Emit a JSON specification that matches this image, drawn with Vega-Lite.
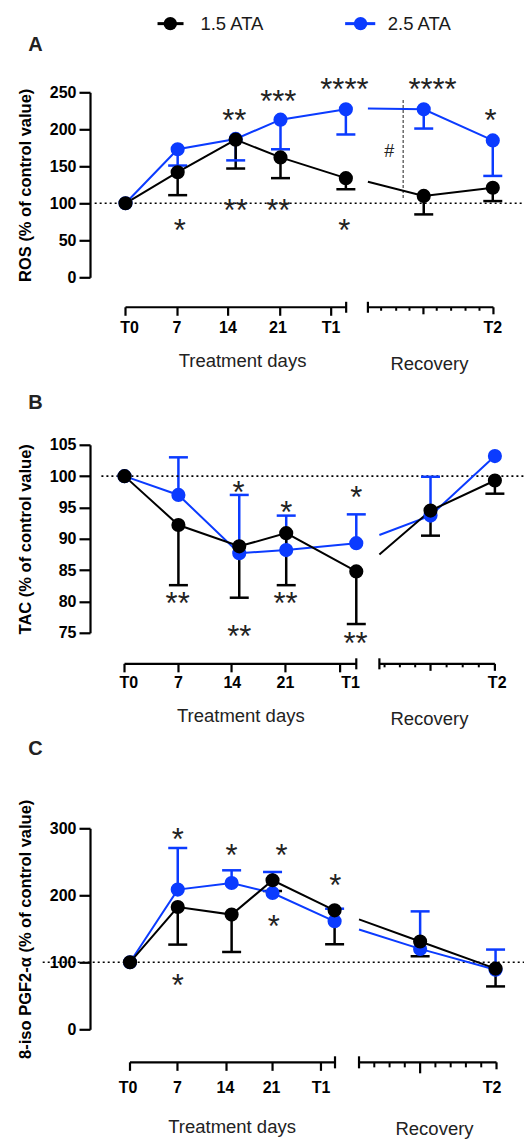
{
 "$schema": "https://vega.github.io/schema/vega-lite/v6.json",
 "padding": {"left": 17, "top": 14.3, "right": 0, "bottom": 0},
 "autosize": {"type": "pad"},
 "background": "white",
 "config": {
  "font": "Liberation Sans",
  "view": {"stroke": null},
  "axis": {"grid": false, "domainColor": "black", "domainWidth": 2.2, "tickColor": "black", "tickWidth": 2.2, "tickSize": 11, "labelFontSize": 16, "labelFontWeight": "bold", "labelColor": "black", "labelPadding": 3, "labelFlush": false, "labelOverlap": false, "titleFontSize": 16.5, "titleFontWeight": "bold", "titleColor": "black", "titlePadding": 16}
 },
 "datasets": {
  "A": [
   {"g":"2.5 ATA","seg":"t","t":0,"m":100},
   {"g":"2.5 ATA","seg":"t","t":7.1,"m":173,"e":151},
   {"g":"2.5 ATA","seg":"t","t":15,"m":187,"e":158},
   {"g":"2.5 ATA","seg":"t","t":21.1,"m":213,"e":173},
   {"g":"2.5 ATA","seg":"t","t":30,"m":227,"e":193},
   {"g":"2.5 ATA","seg":"r","t":33,"m":228,"kind":"break"},
   {"g":"2.5 ATA","seg":"r","t":40.6,"m":227,"e":201},
   {"g":"2.5 ATA","seg":"r","t":50,"m":185,"e":137},
   {"g":"1.5 ATA","seg":"t","t":0,"m":100},
   {"g":"1.5 ATA","seg":"t","t":7.1,"m":142,"e":111},
   {"g":"1.5 ATA","seg":"t","t":15,"m":186,"e":147},
   {"g":"1.5 ATA","seg":"t","t":21.1,"m":162,"e":134},
   {"g":"1.5 ATA","seg":"t","t":30,"m":134,"e":119},
   {"g":"1.5 ATA","seg":"r","t":33,"m":129,"kind":"break"},
   {"g":"1.5 ATA","seg":"r","t":40.6,"m":110,"e":85},
   {"g":"1.5 ATA","seg":"r","t":50,"m":121,"e":103}
  ],
  "A_st": [
   {"t":14.8,"y":221,"s":"**"},{"t":20.8,"y":247,"s":"***"},{"t":29.8,"y":264,"s":"****"},{"t":41.8,"y":264,"s":"****"},{"t":49.7,"y":222,"s":"*"},
   {"t":7.4,"y":73,"s":"*"},{"t":15,"y":100,"s":"**"},{"t":20.8,"y":100,"s":"**"},{"t":29.8,"y":73,"s":"*"}
  ],
  "A_tk": [
   {"t":0,"k":"major"},{"t":7.08,"k":"major"},{"t":13.97,"k":"major"},{"t":21.06,"k":"major"},{"t":28,"k":"major"},{"t":30.04,"k":"cap"},
   {"t":33.0,"k":"cap"},{"t":34.8,"k":"minor"},{"t":36.85,"k":"minor"},{"t":38.66,"k":"minor"},{"t":40.56,"k":"mid"},{"t":42.37,"k":"minor"},{"t":44.33,"k":"minor"},{"t":46.29,"k":"minor"},{"t":48.19,"k":"minor"},{"t":50.09,"k":"mid"}
  ],
  "A_ax": [{"t0":0,"t1":30.04},{"t0":33.0,"t1":50.09}],
  "A_lb": [{"t":0.54,"lab":"T0"},{"t":7.0,"lab":"7"},{"t":13.95,"lab":"14"},{"t":20.76,"lab":"21"},{"t":28.0,"lab":"T1"},{"t":50.0,"lab":"T2"}],
  "B": [
   {"g":"2.5 ATA","seg":"t","t":0,"m":100},
   {"g":"2.5 ATA","seg":"t","t":7.0,"m":97.0,"e":103.0},
   {"g":"2.5 ATA","seg":"t","t":14.9,"m":87.7,"e":97.0},
   {"g":"2.5 ATA","seg":"t","t":21.0,"m":88.2,"e":93.7},
   {"g":"2.5 ATA","seg":"t","t":30.1,"m":89.3,"e":93.9},
   {"g":"2.5 ATA","seg":"r","t":33.1,"m":90.6,"kind":"break"},
   {"g":"2.5 ATA","seg":"r","t":39.74,"m":93.7,"e":99.9},
   {"g":"2.5 ATA","seg":"r","t":48.1,"m":103.2},
   {"g":"1.5 ATA","seg":"t","t":0,"m":100},
   {"g":"1.5 ATA","seg":"t","t":7.0,"m":92.2,"e":82.6},
   {"g":"1.5 ATA","seg":"t","t":14.9,"m":88.8,"e":80.6},
   {"g":"1.5 ATA","seg":"t","t":21.0,"m":90.9,"e":82.6},
   {"g":"1.5 ATA","seg":"t","t":30.1,"m":84.8,"e":76.4},
   {"g":"1.5 ATA","seg":"r","t":33.1,"m":87.5,"kind":"break"},
   {"g":"1.5 ATA","seg":"r","t":39.74,"m":94.5,"e":90.5},
   {"g":"1.5 ATA","seg":"r","t":48.1,"m":99.3,"e":97.2}
  ],
  "B_st": [
   {"t":14.8,"y":98.5,"s":"*"},{"t":21.0,"y":95.3,"s":"*"},{"t":30.1,"y":97.7,"s":"*"},
   {"t":6.9,"y":80.9,"s":"**"},{"t":14.9,"y":75.6,"s":"**"},{"t":20.9,"y":80.9,"s":"**"},{"t":30.0,"y":74.4,"s":"**"}
  ],
  "B_tk": [
   {"t":0,"k":"major"},{"t":7.01,"k":"major"},{"t":13.9,"k":"major"},{"t":20.9,"k":"major"},{"t":28,"k":"major"},{"t":30.1,"k":"cap"},
   {"t":33.1,"k":"cap"},{"t":33.77,"k":"minor"},{"t":35.76,"k":"minor"},{"t":37.75,"k":"minor"},{"t":39.74,"k":"mid"},{"t":41.83,"k":"minor"},{"t":43.92,"k":"minor"},{"t":46.01,"k":"minor"},{"t":48.1,"k":"mid"}
  ],
  "B_ax": [{"t0":0,"t1":30.1},{"t0":33.1,"t1":48.1}],
  "B_lb": [{"t":0.55,"lab":"T0"},{"t":7.0,"lab":"7"},{"t":14.0,"lab":"14"},{"t":20.9,"lab":"21"},{"t":29.35,"lab":"T1"},{"t":48.4,"lab":"T2"}],
  "C": [
   {"g":"2.5 ATA","seg":"t","t":0,"m":100},
   {"g":"2.5 ATA","seg":"t","t":7.0,"m":208.5,"e":270.6},
   {"g":"2.5 ATA","seg":"t","t":14.9,"m":218.4,"e":237.3},
   {"g":"2.5 ATA","seg":"t","t":20.9,"m":203.4,"e":234.8},
   {"g":"2.5 ATA","seg":"t","t":30.0,"m":161.2,"e":180},
   {"g":"2.5 ATA","seg":"r","t":33.58,"m":149,"kind":"break"},
   {"g":"2.5 ATA","seg":"r","t":42.54,"m":120,"e":176},
   {"g":"2.5 ATA","seg":"r","t":53.6,"m":89,"e":119},
   {"g":"1.5 ATA","seg":"t","t":0,"m":100},
   {"g":"1.5 ATA","seg":"t","t":7.0,"m":182.5,"e":126.4},
   {"g":"1.5 ATA","seg":"t","t":14.9,"m":171.2,"e":115.4},
   {"g":"1.5 ATA","seg":"t","t":20.9,"m":222.4,"e":206.4},
   {"g":"1.5 ATA","seg":"t","t":30.0,"m":177.6,"e":126.9},
   {"g":"1.5 ATA","seg":"r","t":33.58,"m":164,"kind":"break"},
   {"g":"1.5 ATA","seg":"r","t":42.54,"m":131,"e":109},
   {"g":"1.5 ATA","seg":"r","t":53.6,"m":90.6,"e":64}
  ],
  "C_st": [
   {"t":7.0,"y":294,"s":"*"},{"t":14.9,"y":270,"s":"*"},{"t":22.2,"y":270,"s":"*"},{"t":30.1,"y":225,"s":"*"},
   {"t":21.1,"y":164,"s":"*"},{"t":7.0,"y":75.7,"s":"*"}
  ],
  "C_tk": [
   {"t":0,"k":"major"},{"t":6.96,"k":"major"},{"t":14.15,"k":"major"},{"t":20.9,"k":"major"},{"t":28,"k":"major"},{"t":30.06,"k":"cap"},
   {"t":33.58,"k":"cap"},{"t":35.82,"k":"minor"},{"t":38.06,"k":"minor"},{"t":40.29,"k":"minor"},{"t":42.54,"k":"long"},{"t":44.78,"k":"minor"},{"t":47.02,"k":"minor"},{"t":49.25,"k":"minor"},{"t":51.5,"k":"minor"},{"t":53.74,"k":"mid"}
  ],
  "C_ax": [{"t0":0,"t1":30.06},{"t0":33.58,"t1":53.74}],
  "C_lb": [{"t":-0.3,"lab":"T0"},{"t":6.96,"lab":"7"},{"t":14.0,"lab":"14"},{"t":20.75,"lab":"21"},{"t":28.0,"lab":"T1"},{"t":53.1,"lab":"T2"}]
 },
 "spacing": 18.5,
 "vconcat": [
  {
   "width": 434, "height": 185,
   "resolve": {"axis": {"x": "independent", "y": "independent"}},
   "layer": [
    {"data":{"name":"A"},"transform":[{"filter":"isValid(datum.e)"}],"mark":{"type":"rule","strokeWidth":2.5},
     "encoding":{"x":{"field":"t","type":"quantitative","scale":{"domain":[-4.833,54.25],"nice":false,"zero":false},"axis":null},
      "y":{"field":"m","type":"quantitative","scale":{"domain":[0,250],"nice":false,"zero":false},"axis":{"orient":"left","values":[0,50,100,150,200,250],"title":"ROS (% of control value)"}},
      "y2":{"field":"e"},
      "color":{"field":"g","type":"nominal","scale":{"domain":["1.5 ATA","2.5 ATA"],"range":["#000000","#0B3BFF"]},"legend":null}}},
    {"data":{"values":[{}]},"mark":{"type":"rule","strokeDash":[2,3],"strokeWidth":1.6,"color":"black"},"encoding":{"x":{"datum":-4.2,"axis":null},"x2":{"datum":54.25},"y":{"datum":100,"axis":null}}},
    {"data":{"values":[{}]},"mark":{"type":"rule","strokeDash":[3,2],"strokeWidth":1.2,"color":"#444444"},"encoding":{"x":{"datum":37.8,"axis":null},"y":{"datum":107,"axis":null},"y2":{"datum":240}}},
    {"data":{"values":[{}]},"mark":{"type":"text","fontSize":18,"color":"#222222","baseline":"middle"},"encoding":{"x":{"datum":35.9,"axis":null},"y":{"datum":169,"axis":null},"text":{"value":"#"}}},
    {"data":{"name":"A"},"transform":[{"filter":"isValid(datum.e)"}],"mark":{"type":"tick","orient":"horizontal","size":19,"thickness":2.5,"opacity":1},
     "encoding":{"x":{"field":"t","type":"quantitative","axis":null},"y":{"field":"e","type":"quantitative","axis":null},"color":{"field":"g","type":"nominal","legend":null}}},
    {"data":{"name":"A"},"mark":{"type":"line","strokeWidth":2},
     "encoding":{"x":{"field":"t","type":"quantitative","axis":null},"y":{"field":"m","type":"quantitative","axis":null},"detail":{"field":"seg","type":"nominal"},"color":{"field":"g","type":"nominal","legend":null}}},
    {"data":{"name":"A"},"transform":[{"filter":"datum.kind !== 'break'"}],"mark":{"type":"point","filled":true,"size":200,"opacity":1},
     "encoding":{"x":{"field":"t","type":"quantitative","axis":null},"y":{"field":"m","type":"quantitative","axis":null},"color":{"field":"g","type":"nominal","legend":null}}},
    {"data":{"name":"A_st"},"mark":{"type":"text","fontSize":31,"baseline":"middle","dy":8.7,"color":"#222222"},
     "encoding":{"x":{"field":"t","type":"quantitative","axis":null},"y":{"field":"y","type":"quantitative","axis":null},"text":{"field":"s","type":"nominal"}}},
    {"data":{"name":"A_ax"},"mark":{"type":"rule","strokeWidth":2.2,"color":"black"},"encoding":{"x":{"field":"t0","type":"quantitative","axis":null},"x2":{"field":"t1"},"y":{"datum":-40.5,"axis":null}}},
    {"data":{"name":"A_tk"},"transform":[{"filter":"datum.k === 'major'"}],"mark":{"type":"rule","strokeWidth":2.2,"color":"black"},"encoding":{"x":{"field":"t","type":"quantitative","axis":null},"y":{"datum":-40.5,"axis":null},"y2":{"datum":-52}}},
    {"data":{"name":"A_tk"},"transform":[{"filter":"datum.k === 'mid'"}],"mark":{"type":"rule","strokeWidth":2.2,"color":"black"},"encoding":{"x":{"field":"t","type":"quantitative","axis":null},"y":{"datum":-40.5,"axis":null},"y2":{"datum":-50}}},
    {"data":{"name":"A_tk"},"transform":[{"filter":"datum.k === 'minor'"}],"mark":{"type":"rule","strokeWidth":2,"color":"black"},"encoding":{"x":{"field":"t","type":"quantitative","axis":null},"y":{"datum":-40.5,"axis":null},"y2":{"datum":-45.2}}},
    {"data":{"name":"A_tk"},"transform":[{"filter":"datum.k === 'cap'"}],"mark":{"type":"rule","strokeWidth":2.2,"color":"black"},"encoding":{"x":{"field":"t","type":"quantitative","axis":null},"y":{"datum":-33.1,"axis":null},"y2":{"datum":-47.9}}},
    {"data":{"name":"A_lb"},"mark":{"type":"text","fontWeight":"bold","fontSize":16,"baseline":"middle","align":"center","color":"black"},"encoding":{"x":{"field":"t","type":"quantitative","axis":null},"y":{"datum":-68.2,"axis":null},"text":{"field":"lab","type":"nominal"}}},
    {"data":{"values":[{}]},"mark":{"type":"text","fontSize":18.5,"baseline":"middle","color":"#222222"},"encoding":{"x":{"datum":15.93,"axis":null},"y":{"datum":-113.5,"axis":null},"text":{"value":"Treatment days"}}},
    {"data":{"values":[{}]},"mark":{"type":"text","fontSize":18.5,"baseline":"middle","color":"#222222"},"encoding":{"x":{"datum":41.38,"axis":null},"y":{"datum":-117.6,"axis":null},"text":{"value":"Recovery"}}},
    {"data":{"values":[{}]},"mark":{"type":"text","fontSize":20,"fontWeight":"bold","baseline":"middle","color":"#222222"},"encoding":{"x":{"datum":-12.25,"axis":null},"y":{"datum":314.2,"axis":null},"text":{"value":"A"}}},
    {"data":{"values":[{}]},"mark":{"type":"rule","strokeWidth":3,"color":"black"},"encoding":{"x":{"datum":4.36,"axis":null},"x2":{"datum":7.9},"y":{"datum":342.8,"axis":null}}},
    {"data":{"values":[{}]},"mark":{"type":"point","filled":true,"size":180,"opacity":1,"color":"black"},"encoding":{"x":{"datum":6.1,"axis":null},"y":{"datum":342.8,"axis":null}}},
    {"data":{"values":[{}]},"mark":{"type":"text","fontSize":18.5,"baseline":"middle","align":"left","color":"#1a1a1a"},"encoding":{"x":{"datum":10.2,"axis":null},"y":{"datum":342.8,"axis":null},"text":{"value":"1.5 ATA"}}},
    {"data":{"values":[{}]},"mark":{"type":"rule","strokeWidth":3,"color":"#0B3BFF"},"encoding":{"x":{"datum":29.9,"axis":null},"x2":{"datum":34.0},"y":{"datum":342.8,"axis":null}}},
    {"data":{"values":[{}]},"mark":{"type":"point","filled":true,"size":180,"opacity":1,"color":"#0B3BFF"},"encoding":{"x":{"datum":32.0,"axis":null},"y":{"datum":342.8,"axis":null}}},
    {"data":{"values":[{}]},"mark":{"type":"text","fontSize":18.5,"baseline":"middle","align":"left","color":"#1a1a1a"},"encoding":{"x":{"datum":35.7,"axis":null},"y":{"datum":342.8,"axis":null},"text":{"value":"2.5 ATA"}}}
   ]
  },
  {
   "spacing": 10.5,
   "vconcat": [
    {
     "width": 434, "height": 188,
     "resolve": {"axis": {"x": "independent", "y": "independent"}},
     "layer": [
      {"data":{"name":"B"},"transform":[{"filter":"isValid(datum.e)"}],"mark":{"type":"rule","strokeWidth":2.5},
       "encoding":{"x":{"field":"t","type":"quantitative","scale":{"domain":[-4.481,51.88],"nice":false,"zero":false},"axis":null},
        "y":{"field":"m","type":"quantitative","scale":{"domain":[75,105],"nice":false,"zero":false},"axis":{"orient":"left","values":[75,80,85,90,95,100,105],"title":"TAC (% of control value)"}},
        "y2":{"field":"e"},
        "color":{"field":"g","type":"nominal","legend":null}}},
      {"data":{"values":[{}]},"mark":{"type":"rule","strokeDash":[2,3],"strokeWidth":1.6,"color":"black"},"encoding":{"x":{"datum":-3.0,"axis":null},"x2":{"datum":51.88},"y":{"datum":100,"axis":null}}},
      {"data":{"name":"B"},"transform":[{"filter":"isValid(datum.e)"}],"mark":{"type":"tick","orient":"horizontal","size":19,"thickness":2.5,"opacity":1},
       "encoding":{"x":{"field":"t","type":"quantitative","axis":null},"y":{"field":"e","type":"quantitative","axis":null},"color":{"field":"g","type":"nominal","legend":null}}},
      {"data":{"name":"B"},"mark":{"type":"line","strokeWidth":2},
       "encoding":{"x":{"field":"t","type":"quantitative","axis":null},"y":{"field":"m","type":"quantitative","axis":null},"detail":{"field":"seg","type":"nominal"},"color":{"field":"g","type":"nominal","legend":null}}},
      {"data":{"name":"B"},"transform":[{"filter":"datum.kind !== 'break'"}],"mark":{"type":"point","filled":true,"size":200,"opacity":1},
       "encoding":{"x":{"field":"t","type":"quantitative","axis":null},"y":{"field":"m","type":"quantitative","axis":null},"color":{"field":"g","type":"nominal","legend":null}}},
      {"data":{"name":"B_st"},"mark":{"type":"text","fontSize":31,"baseline":"middle","dy":8.7,"color":"#222222"},
       "encoding":{"x":{"field":"t","type":"quantitative","axis":null},"y":{"field":"y","type":"quantitative","axis":null},"text":{"field":"s","type":"nominal"}}},
      {"data":{"name":"B_ax"},"mark":{"type":"rule","strokeWidth":2.2,"color":"black"},"encoding":{"x":{"field":"t0","type":"quantitative","axis":null},"x2":{"field":"t1"},"y":{"datum":70.05,"axis":null}}},
      {"data":{"name":"B_tk"},"transform":[{"filter":"datum.k === 'major'"}],"mark":{"type":"rule","strokeWidth":2.2,"color":"black"},"encoding":{"x":{"field":"t","type":"quantitative","axis":null},"y":{"datum":70.05,"axis":null},"y2":{"datum":68.69}}},
      {"data":{"name":"B_tk"},"transform":[{"filter":"datum.k === 'mid'"}],"mark":{"type":"rule","strokeWidth":2.2,"color":"black"},"encoding":{"x":{"field":"t","type":"quantitative","axis":null},"y":{"datum":70.05,"axis":null},"y2":{"datum":68.93}}},
      {"data":{"name":"B_tk"},"transform":[{"filter":"datum.k === 'minor'"}],"mark":{"type":"rule","strokeWidth":2,"color":"black"},"encoding":{"x":{"field":"t","type":"quantitative","axis":null},"y":{"datum":70.05,"axis":null},"y2":{"datum":69.49}}},
      {"data":{"name":"B_tk"},"transform":[{"filter":"datum.k === 'cap'"}],"mark":{"type":"rule","strokeWidth":2.2,"color":"black"},"encoding":{"x":{"field":"t","type":"quantitative","axis":null},"y":{"datum":70.93,"axis":null},"y2":{"datum":69.17}}},
      {"data":{"name":"B_lb"},"mark":{"type":"text","fontWeight":"bold","fontSize":16,"baseline":"middle","align":"center","color":"black"},"encoding":{"x":{"field":"t","type":"quantitative","axis":null},"y":{"datum":66.94,"axis":null},"text":{"field":"lab","type":"nominal"}}},
      {"data":{"values":[{}]},"mark":{"type":"text","fontSize":18.5,"baseline":"middle","color":"#222222"},"encoding":{"x":{"datum":15.1,"axis":null},"y":{"datum":61.76,"axis":null},"text":{"value":"Treatment days"}}},
      {"data":{"values":[{}]},"mark":{"type":"text","fontSize":18.5,"baseline":"middle","color":"#222222"},"encoding":{"x":{"datum":39.6,"axis":null},"y":{"datum":61.2,"axis":null},"text":{"value":"Recovery"}}},
      {"data":{"values":[{}]},"mark":{"type":"text","fontSize":20,"fontWeight":"bold","baseline":"middle","color":"#222222"},"encoding":{"x":{"datum":-11.56,"axis":null},"y":{"datum":111.7,"axis":null},"text":{"value":"B"}}}
     ]
    },
    {
     "width": 434, "height": 201,
     "resolve": {"axis": {"x": "independent", "y": "independent"}},
     "layer": [
      {"data":{"name":"C"},"transform":[{"filter":"isValid(datum.e)"}],"mark":{"type":"rule","strokeWidth":2.5},
       "encoding":{"x":{"field":"t","type":"quantitative","scale":{"domain":[-5.865,57.77],"nice":false,"zero":false},"axis":null},
        "y":{"field":"m","type":"quantitative","scale":{"domain":[0,300],"nice":false,"zero":false},"axis":{"orient":"left","values":[0,100,200,300],"title":"8-iso PGF2-α (% of control value)"}},
        "y2":{"field":"e"},
        "color":{"field":"g","type":"nominal","legend":null}}},
      {"data":{"values":[{}]},"mark":{"type":"rule","strokeDash":[2,3],"strokeWidth":1.6,"color":"black"},"encoding":{"x":{"datum":-12.8,"axis":null},"x2":{"datum":57.77},"y":{"datum":100,"axis":null}}},
      {"data":{"name":"C"},"transform":[{"filter":"isValid(datum.e)"}],"mark":{"type":"tick","orient":"horizontal","size":19,"thickness":2.5,"opacity":1},
       "encoding":{"x":{"field":"t","type":"quantitative","axis":null},"y":{"field":"e","type":"quantitative","axis":null},"color":{"field":"g","type":"nominal","legend":null}}},
      {"data":{"name":"C"},"mark":{"type":"line","strokeWidth":2},
       "encoding":{"x":{"field":"t","type":"quantitative","axis":null},"y":{"field":"m","type":"quantitative","axis":null},"detail":{"field":"seg","type":"nominal"},"color":{"field":"g","type":"nominal","legend":null}}},
      {"data":{"name":"C"},"transform":[{"filter":"datum.kind !== 'break'"}],"mark":{"type":"point","filled":true,"size":200,"opacity":1},
       "encoding":{"x":{"field":"t","type":"quantitative","axis":null},"y":{"field":"m","type":"quantitative","axis":null},"color":{"field":"g","type":"nominal","legend":null}}},
      {"data":{"name":"C_st"},"mark":{"type":"text","fontSize":31,"baseline":"middle","dy":8.7,"color":"#222222"},
       "encoding":{"x":{"field":"t","type":"quantitative","axis":null},"y":{"field":"y","type":"quantitative","axis":null},"text":{"field":"s","type":"nominal"}}},
      {"data":{"name":"C_ax"},"mark":{"type":"rule","strokeWidth":2.2,"color":"black"},"encoding":{"x":{"field":"t0","type":"quantitative","axis":null},"x2":{"field":"t1"},"y":{"datum":-49.3,"axis":null}}},
      {"data":{"name":"C_tk"},"transform":[{"filter":"datum.k === 'major'"}],"mark":{"type":"rule","strokeWidth":2.2,"color":"black"},"encoding":{"x":{"field":"t","type":"quantitative","axis":null},"y":{"datum":-49.3,"axis":null},"y2":{"datum":-62}}},
      {"data":{"name":"C_tk"},"transform":[{"filter":"datum.k === 'long'"}],"mark":{"type":"rule","strokeWidth":2.2,"color":"black"},"encoding":{"x":{"field":"t","type":"quantitative","axis":null},"y":{"datum":-49.3,"axis":null},"y2":{"datum":-65.7}}},
      {"data":{"name":"C_tk"},"transform":[{"filter":"datum.k === 'mid'"}],"mark":{"type":"rule","strokeWidth":2.2,"color":"black"},"encoding":{"x":{"field":"t","type":"quantitative","axis":null},"y":{"datum":-49.3,"axis":null},"y2":{"datum":-59.7}}},
      {"data":{"name":"C_tk"},"transform":[{"filter":"datum.k === 'minor'"}],"mark":{"type":"rule","strokeWidth":2,"color":"black"},"encoding":{"x":{"field":"t","type":"quantitative","axis":null},"y":{"datum":-49.3,"axis":null},"y2":{"datum":-56.8}}},
      {"data":{"name":"C_tk"},"transform":[{"filter":"datum.k === 'cap'"}],"mark":{"type":"rule","strokeWidth":2.2,"color":"black"},"encoding":{"x":{"field":"t","type":"quantitative","axis":null},"y":{"datum":-40.3,"axis":null},"y2":{"datum":-58.3}}},
      {"data":{"name":"C_lb"},"mark":{"type":"text","fontWeight":"bold","fontSize":16,"baseline":"middle","align":"center","color":"black"},"encoding":{"x":{"field":"t","type":"quantitative","axis":null},"y":{"datum":-87.3,"axis":null},"text":{"field":"lab","type":"nominal"}}},
      {"data":{"values":[{}]},"mark":{"type":"text","fontSize":18.5,"baseline":"middle","color":"#222222"},"encoding":{"x":{"datum":14.96,"axis":null},"y":{"datum":-146.3,"axis":null},"text":{"value":"Treatment days"}}},
      {"data":{"values":[{}]},"mark":{"type":"text","fontSize":18.5,"baseline":"middle","color":"#222222"},"encoding":{"x":{"datum":44.65,"axis":null},"y":{"datum":-149.3,"axis":null},"text":{"value":"Recovery"}}},
      {"data":{"values":[{}]},"mark":{"type":"text","fontSize":20,"fontWeight":"bold","baseline":"middle","color":"#222222"},"encoding":{"x":{"datum":-13.86,"axis":null},"y":{"datum":417.9,"axis":null},"text":{"value":"C"}}}
     ]
    }
   ]
  }
 ]
}
